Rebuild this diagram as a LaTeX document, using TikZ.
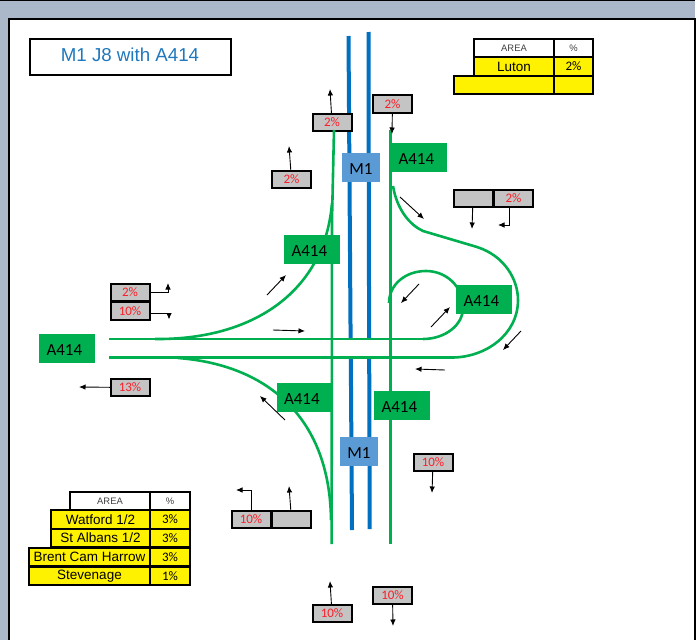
\documentclass[tikz,border=0pt]{standalone}
\usepackage{fontspec}
\setmainfont{Carlito}
\newfontfamily\arialfont{Liberation Sans}
\usetikzlibrary{arrows.meta}
\definecolor{myband}{RGB}{171,184,202}
\definecolor{myblue}{RGB}{0,112,192}
\definecolor{mylabel}{RGB}{91,155,213}
\definecolor{mygreen}{RGB}{0,176,80}
\definecolor{mygray}{RGB}{196,196,196}
\definecolor{myred}{RGB}{250,30,40}
\definecolor{mytitle}{RGB}{31,120,190}
\tikzset{
  pctbox/.style={draw, line width=2, fill=mygray, text=myred, inner sep=0, outer sep=0,
    minimum width=39, minimum height=17.5, font=\fontsize{13}{15}\selectfont},
  roadbox/.style={fill=mygreen, inner ysep=0, inner xsep=7.5, outer sep=0, text width=41,
    minimum height=29, align=left, text height=14, text depth=0, font=\fontsize{17}{19}\selectfont},
  motorbox/.style={fill=mylabel, inner sep=0, outer sep=0, minimum width=38, minimum height=29,
    text height=14, text depth=0, font=\fontsize{17}{19}\selectfont},
  cellbox/.style={draw, line width=2, inner sep=0, outer sep=0, minimum height=18.5},
  areatext/.style={font=\arialfont\fontsize{13.5}{15}\selectfont},
  pcttext/.style={font=\fontsize{13}{15}\selectfont},
  headtext/.style={text=black!75, font=\arialfont\fontsize{9.4}{11}\selectfont},
  road/.style={color=mygreen, line width=2.6},
  flow/.style={-{Latex[length=6.5,width=5.5]}, line width=0.9},
}
\begin{document}
\begin{tikzpicture}[x=1pt,y=-1pt]
\useasboundingbox (0,0) rectangle (699,640);
\fill[white] (0,0) rectangle (699,640);
\fill[myband] (0,0) rectangle (695,640);
\draw[line width=0.8] (0,0.4) -- (695,0.4);
\draw[line width=2, fill=white] (8.8,640) -- (8.8,18.8) -- (695,18.8) -- (695,640);

\node[draw, line width=2, minimum width=201, minimum height=36, inner sep=0, text depth=4, text=mytitle,
  font=\arialfont\fontsize{18.7}{20}\selectfont] (title) at (130,57) {M1 J8 with A414};

% motorway
\draw[color=myblue, line width=4] (348.5,36) -- (350.6,339) (350.8,358) -- (352,530);
\draw[color=myblue, line width=4] (368.5,32) -- (369.1,339) (369.2,358) -- (369.7,529);

% percentage boxes
\foreach \name/\x/\y/\txt in {nwTop/332/122.5/2\%, nwLow/291.5/179.5/2\%, neTop/392.5/104/2\%,
  eastL/473/198.5/{}, eastR/513.5/198.5/2\%, westUp/130/292.5/2\%, westDown/130/311/10\%,
  westOut/130/387.5/13\%, swL/251/519.5/10\%, swR/291.5/519.5/{}, seTop/433/462.5/10\%,
  sBot/332/613.5/10\%, seBot/392.5/595.5/10\%}{
\node[pctbox] (\name) at (\x,\y) {\txt};
}

% roads
\draw[road] (109,339) -- (423,339);
\draw[road] (109,357.5) -- (452,357.5);
\draw[road] (334,130) -- (332,220) -- (331.6,544);
\draw[road] (390.5,130) -- (390.5,544);
\draw[road] (155,339) .. controls (255,340) and (325,290) .. (332,203);
\draw[road] (178,358) .. controls (270,365) and (330,420) .. (331,520);
\draw[road] (393,186) .. controls (397,210) and (410,225) .. (423,231) -- (477,247)
  .. controls (505,256) and (518,280) .. (518,300)
  .. controls (518,335) and (485,357.5) .. (452,357.5);
\draw[road] (423,339) .. controls (445,339) and (463,325) .. (463,308)
  .. controls (463,285) and (445,271) .. (426,271)
  .. controls (405,271) and (389,285) .. (389,303);

% road names
\foreach \name/\x/\y in {roadNE/419/157.5, roadN/312/249.5, roadE/484/299.5,
  roadW/67/348.5, roadS/304.5/397.5, roadSE/402/405.5}{
\node[roadbox] (\name) at (\x,\y) {A414};
}
\node[motorbox] (motorN) at (361,167.5) {M1};
\node[motorbox] (motorS) at (359,451.5) {M1};

% area tables
\node[cellbox, minimum width=80, headtext] (lutonHead) at (514,48) {AREA};
\node[cellbox, minimum width=39, headtext] (lutonHeadP) at (573.5,48) {\%};
\node[cellbox, minimum width=80, fill=yellow, areatext] (lutonArea) at (514,66.5) {Luton};
\node[cellbox, minimum width=39, fill=yellow, pcttext] (lutonPct) at (573.5,66.5) {2\%};
\node[cellbox, minimum width=100, fill=yellow] (blankArea) at (504,85) {};
\node[cellbox, minimum width=39, fill=yellow] (blankPct) at (573.5,85) {};

\node[cellbox, minimum width=80, headtext] (southHead) at (110,501) {AREA};
\node[cellbox, minimum width=40, headtext] (southHeadP) at (170,501) {\%};
\node[cellbox, minimum width=99, fill=yellow, areatext] (watford) at (100.5,519.5) {Watford 1/2};
\node[cellbox, minimum width=40, fill=yellow, pcttext] (watfordP) at (170,519.5) {3\%};
\node[cellbox, minimum width=99, fill=yellow, areatext] (albans) at (100.5,538) {St Albans 1/2};
\node[cellbox, minimum width=40, fill=yellow, pcttext] (albansP) at (170,538) {3\%};
\node[cellbox, minimum width=121, fill=yellow, areatext] (brent) at (89.5,557) {Brent Cam Harrow};
\node[cellbox, minimum width=40, fill=yellow, pcttext] (brentP) at (170,557) {3\%};
\node[cellbox, minimum width=121, fill=yellow, areatext] (stevenage) at (89.5,576) {Stevenage};
\node[cellbox, minimum width=40, fill=yellow, pcttext] (stevenageP) at (170,576) {1\%};

% arrows out of the boxes
\foreach \name/\x/\y in {nwTop/330/89, nwLow/289/146, neTop/392/134, eastL/472/229,
  westOut/79/387, swR/289/486, seTop/432/493, sBot/330/581, seBot/393/626}{
\coordinate (\name To) at (\x,\y);
\draw[flow] (\name) -- (\name To);
}
\coordinate (eastTo) at (498,225);
\coordinate (upTo) at (168,283);
\coordinate (downTo) at (169,319.5);
\coordinate (swTo) at (236,490);
\draw[flow] ([xshift=-4.5]eastR.south) |- (eastTo);
\draw[flow] (westUp.east) -| (upTo);
\draw[flow] ([yshift=-2.5]westDown.east) -| (downTo);
\draw[flow] (swL.north) |- (swTo);

% arrows along the roads
\foreach \a/\b in {{400,197}/{424,219}, {267,295}/{286,275}, {419,284}/{401,303},
  {431,327}/{450,307}, {273,330}/{305,331}, {521,331}/{503,350},
  {445,370}/{415,369}, {285,420}/{260,396}}{
\draw[flow] (\a) -- (\b);
}
\end{tikzpicture}
\end{document}
